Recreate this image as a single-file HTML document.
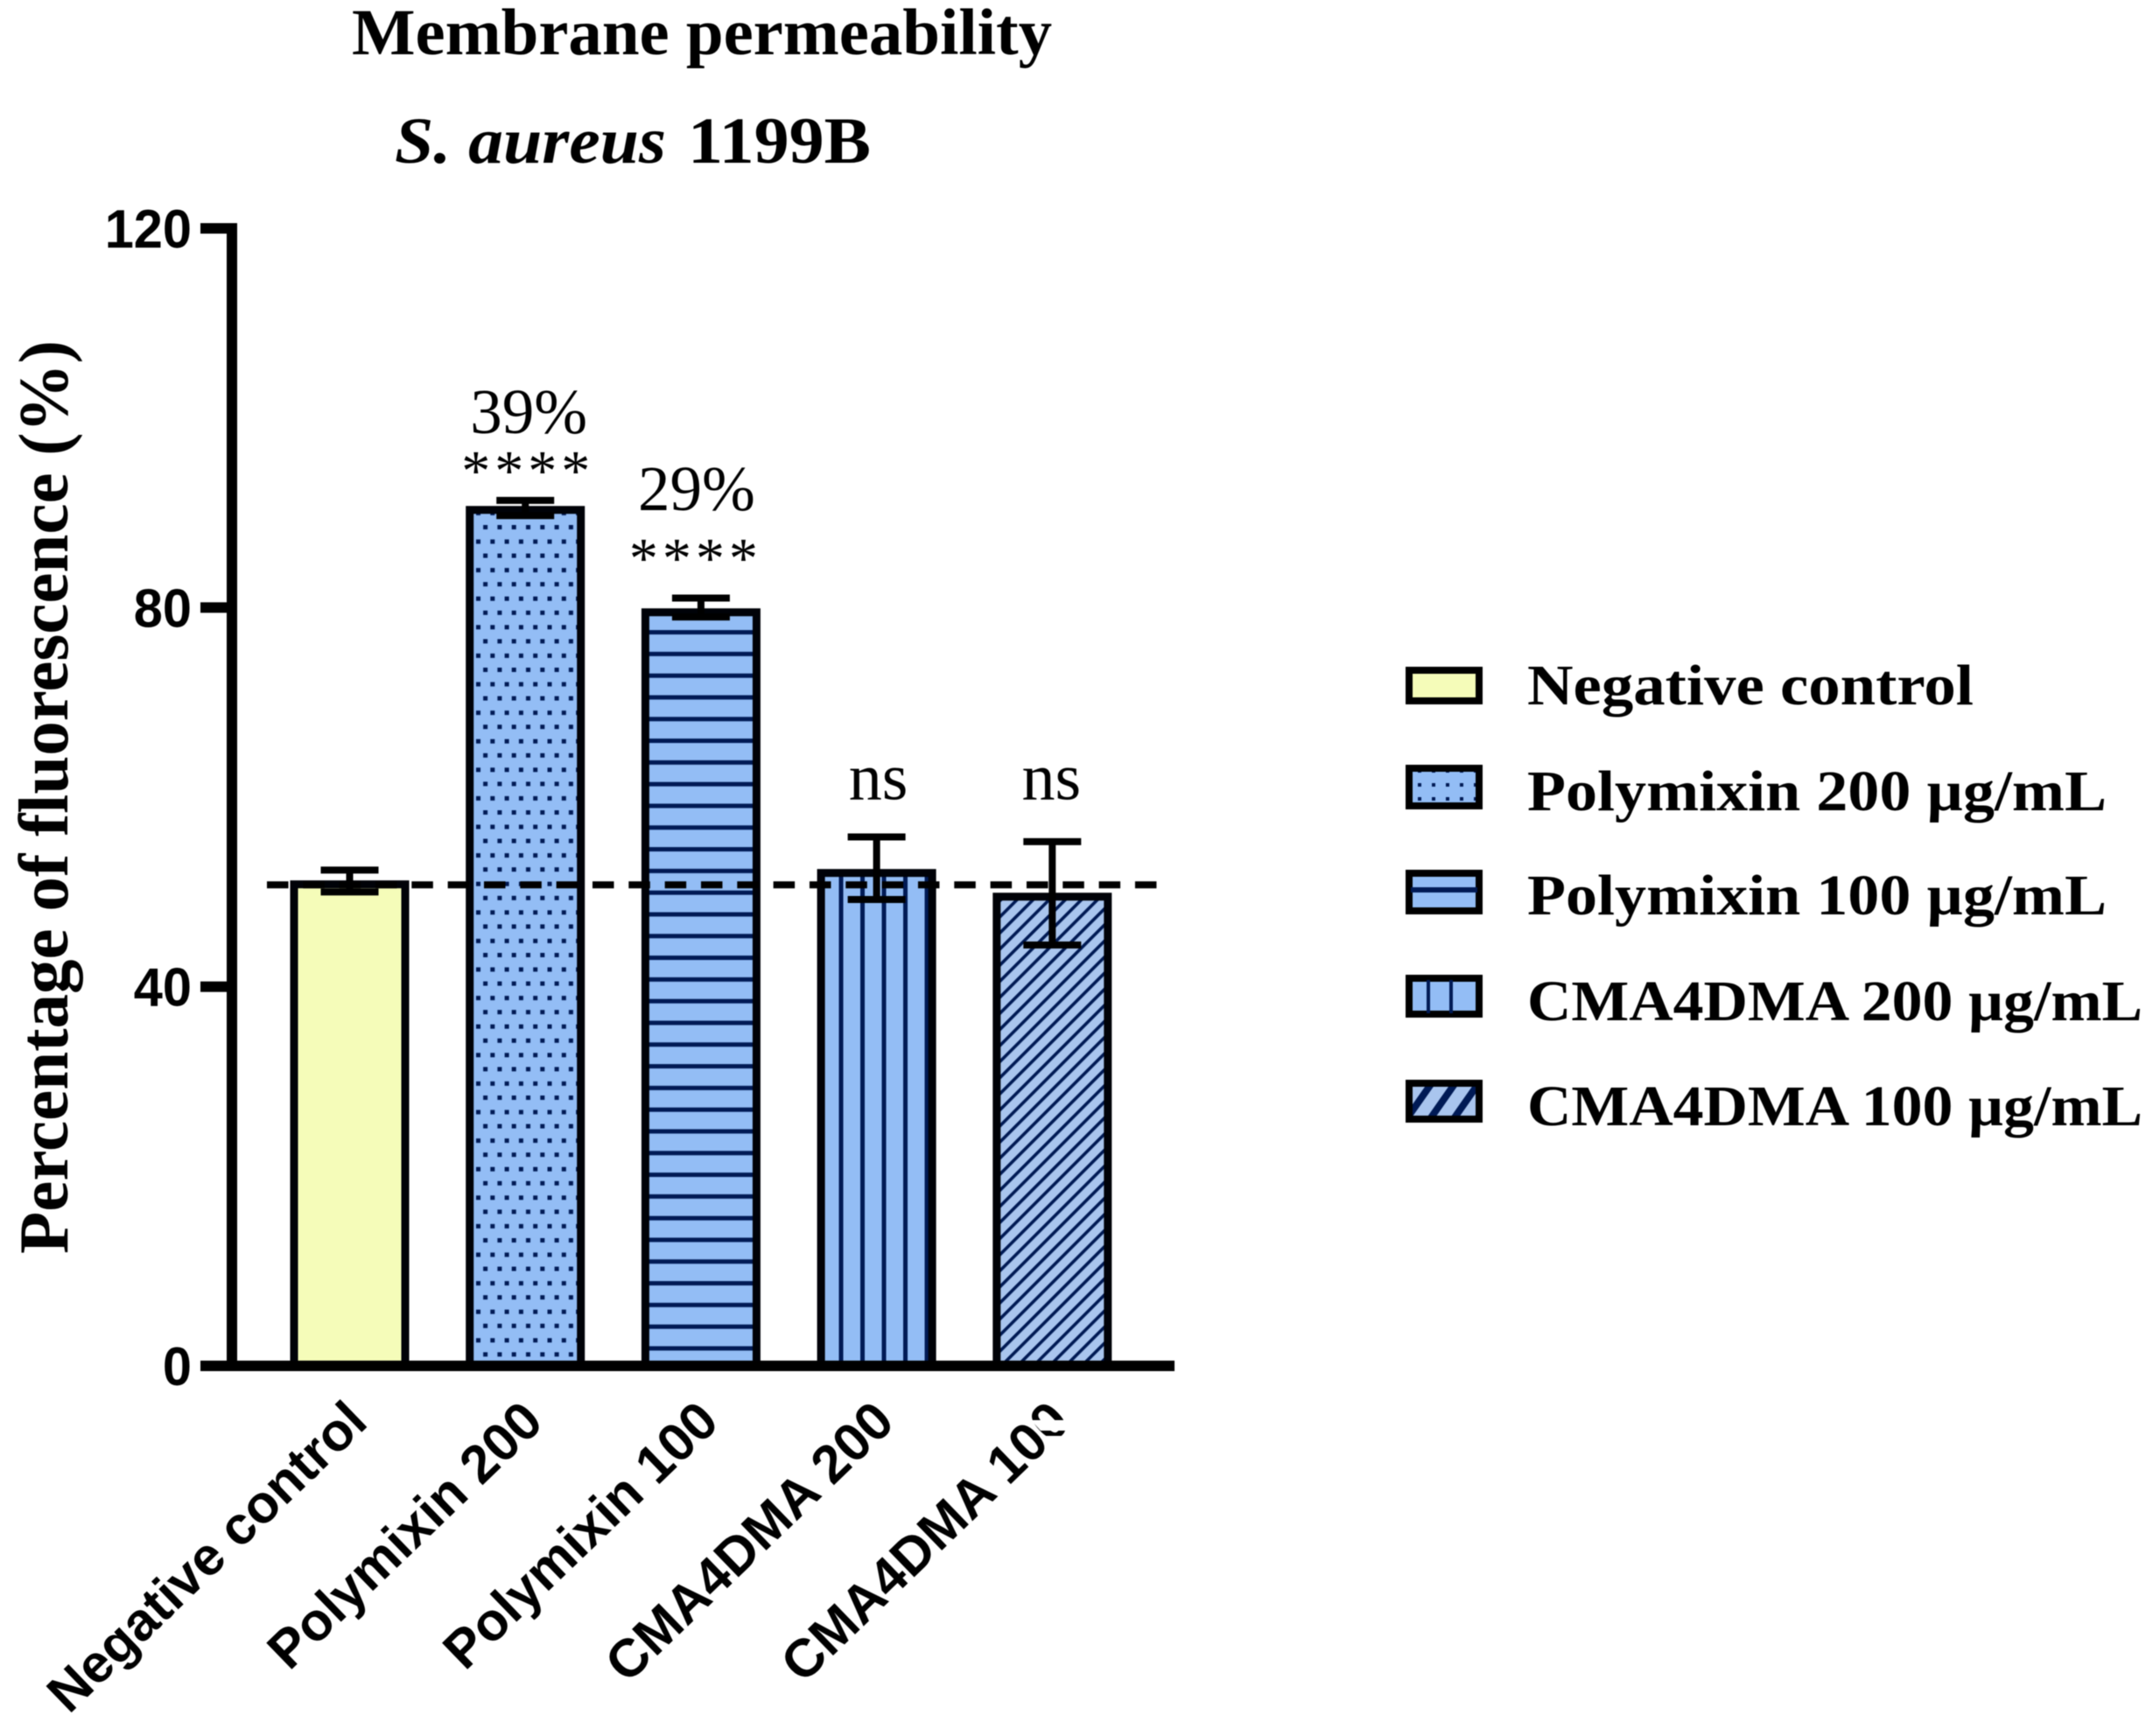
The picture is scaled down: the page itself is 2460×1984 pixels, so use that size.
<!DOCTYPE html>
<html lang="en">
<head>
<meta charset="utf-8">
<title>Membrane permeability S. aureus 1199B</title>
<style>
html,body{margin:0;padding:0;background:#fff;}
svg{display:block;filter:blur(0.6px);}
.serif{font-family:"Liberation Serif",serif;}
.sans{font-family:"Liberation Sans",sans-serif;}
</style>
</head>
<body>
<svg id="chart" xmlns="http://www.w3.org/2000/svg" width="2460" height="1984" viewBox="0 0 2460 1984">
  <defs>
    <pattern id="dots" patternUnits="userSpaceOnUse" width="16.3" height="32.6" x="544" y="599.5">
      <rect x="0" y="17" width="5" height="5" fill="#001a55"/>
      <rect x="8.1" y="0.5" width="5" height="5" fill="#001a55"/>
    </pattern>
    <pattern id="hlines" patternUnits="userSpaceOnUse" width="40" height="24.8" y="709.6">
      <rect x="0" y="10.5" width="40" height="5" fill="#001a55"/>
    </pattern>
    <pattern id="vlines" patternUnits="userSpaceOnUse" width="24.5" height="40" x="948.5">
      <rect x="10" y="0" width="5" height="40" fill="#001a55"/>
    </pattern>
    <pattern id="diag" patternUnits="userSpaceOnUse" width="13" height="13" patternTransform="rotate(45)">
      <rect x="0" y="0" width="3.6" height="13" fill="#001a55"/>
    </pattern>
    <pattern id="lgdots" patternUnits="userSpaceOnUse" width="16" height="16" x="1620" y="894">
      <rect x="0" y="1" width="4" height="4" fill="#001a55"/>
    </pattern>
    <pattern id="lgdiag" patternUnits="userSpaceOnUse" width="22" height="22" patternTransform="rotate(35)">
      <rect x="0" y="0" width="8" height="22" fill="#001a55"/>
    </pattern>
  </defs>

  <rect x="0" y="0" width="2460" height="1984" fill="#ffffff"/>

  <text class="serif" x="402" y="62" font-size="75" font-weight="700" textLength="800" lengthAdjust="spacingAndGlyphs">Membrane permeability</text>
  <text class="serif" x="451" y="186" font-size="75" font-weight="700" font-style="italic" textLength="310" lengthAdjust="spacingAndGlyphs">S. aureus</text>
  <text class="serif" x="786" y="186" font-size="75" font-weight="700" textLength="209" lengthAdjust="spacingAndGlyphs">1199B</text>

  <text class="serif" transform="translate(77,1433) rotate(-90)" font-size="80" font-weight="700" textLength="1044" lengthAdjust="spacingAndGlyphs">Percentage of fluorescence (%)</text>

  <g id="bars"></g>
  <g id="errors"></g>
  <g id="axes"></g>
  <g id="annotations"></g>

  <g id="legend">
    <g>
      <rect x="1610" y="766" width="80" height="35" fill="#f5fcb9" stroke="#000" stroke-width="8"/>
      <text class="serif" x="1745" y="805" font-size="66" font-weight="700" textLength="510" lengthAdjust="spacingAndGlyphs">Negative control</text>
    </g>
    <g>
      <rect x="1610" y="878" width="80" height="43" fill="#93bdf5"/>
      <rect x="1610" y="878" width="80" height="43" fill="url(#lgdots)" stroke="#000" stroke-width="8"/>
      <text class="serif" x="1745" y="926" font-size="66" font-weight="700" textLength="662" lengthAdjust="spacingAndGlyphs">Polymixin 200 µg/mL</text>
    </g>
    <g>
      <rect x="1610" y="998" width="80" height="43" fill="#93bdf5" stroke="#000" stroke-width="8"/>
      <rect x="1612" y="1014" width="76" height="6" fill="#001a55"/>
      <text class="serif" x="1745" y="1045" font-size="66" font-weight="700" textLength="662" lengthAdjust="spacingAndGlyphs">Polymixin 100 µg/mL</text>
    </g>
    <g>
      <rect x="1610" y="1118" width="80" height="41" fill="#93bdf5" stroke="#000" stroke-width="8"/>
      <rect x="1630" y="1120" width="4" height="38" fill="#001a55"/>
      <rect x="1656" y="1120" width="4" height="38" fill="#001a55"/>
      <text class="serif" x="1745" y="1166" font-size="66" font-weight="700" textLength="703" lengthAdjust="spacingAndGlyphs">CMA4DMA 200 µg/mL</text>
    </g>
    <g>
      <rect x="1610" y="1238" width="80" height="41" fill="#a9c5ee"/>
      <rect x="1610" y="1238" width="80" height="41" fill="url(#lgdiag)" stroke="#000" stroke-width="8"/>
      <text class="serif" x="1745" y="1286" font-size="66" font-weight="700" textLength="703" lengthAdjust="spacingAndGlyphs">CMA4DMA 100 µg/mL</text>
    </g>
  </g>
</svg>

<script>
const categories = ["Negative control", "Polymixin 200", "Polymixin 100", "CMA4DMA 200", "CMA4DMA 100"];
const means = [50.8, 90.3, 79.5, 52, 49.5];
const errorHigh = [52.3, 91.3, 81, 55.8, 55.3];
const errorLow = [50, 89.7, 79, 49.2, 44.4];
const percentLabels = ["", "39%", "29%", "", ""];
const significance = ["", "****", "****", "ns", "ns"];
const fills = ["#f5fcb9", "#93bdf5", "#93bdf5", "#93bdf5", "#a9c5ee"];
const hatches = ["", "dots", "hlines", "vlines", "diag"];
const yTicks = [0, 40, 80, 120];
const referenceLevel = 50.75;

const NS = "http://www.w3.org/2000/svg";
function yScale(v) { return 1561 - v * (1561 - 261) / 120; }
function xScale(i) { return 399.5 + i * 200.7; }
function make(parent, tag, attrs) {
  const el = document.createElementNS(NS, tag);
  for (const k in attrs) el.setAttribute(k, attrs[k]);
  parent.appendChild(el);
  return el;
}
const barsG = document.getElementById("bars");
const errG = document.getElementById("errors");
const axG = document.getElementById("axes");
const annG = document.getElementById("annotations");
const BAR = 127, CAP = 66;

categories.forEach(function (cat, i) {
  const cx = xScale(i), top = yScale(means[i]), h = yScale(0) - top;
  const g = make(barsG, "g", {});
  
  
  make(g, "rect", { x: cx - BAR / 2, y: top, width: BAR, height: h, fill: fills[i] });
  if (hatches[i]) make(g, "rect", { x: cx - BAR / 2, y: top, width: BAR, height: h, fill: "url(#" + hatches[i] + ")" });
  make(g, "rect", { x: cx - BAR / 2, y: top, width: BAR, height: h, fill: "none", stroke: "#000208", "stroke-width": 9 });

  const e = make(errG, "g", { stroke: "#000", "stroke-width": 8, fill: "none" });
  
  
  const yh = yScale(errorHigh[i]), yl = yScale(errorLow[i]);
  make(e, "line", { x1: cx, x2: cx, y1: yh, y2: yl });
  make(e, "line", { x1: cx - CAP / 2, x2: cx + CAP / 2, y1: yh, y2: yh });
  make(e, "line", { x1: cx - CAP / 2, x2: cx + CAP / 2, y1: yl, y2: yl });

  const lab = make(axG, "text", {
    class: "sans", "font-size": 61, "font-weight": 700, "text-anchor": "end",
    transform: "translate(" + (cx + 23) + ",1628) rotate(-44)"
  });
  
  
  lab.textContent = cat;

  if (percentLabels[i]) {
    const firstGroup = i === 1;
    const p = make(annG, "text", {
      class: "serif", "font-size": 73, "text-anchor": "middle",
      x: cx + (firstGroup ? 4 : -5),
      y: top - (firstGroup ? 88 : 117)
    });
    
    
    p.textContent = percentLabels[i];
  }
  if (significance[i] === "ns") {
    const s = make(annG, "text", {
      class: "serif", "font-size": 76, "text-anchor": "middle",
      x: cx + (i === 3 ? 2 : -1),
      y: yScale(Math.max(errorHigh[3], errorHigh[4])) - 43
    });
    
    
    s.textContent = significance[i];
  } else if (significance[i]) {
    const firstGroup = i === 1;
    const s = make(annG, "text", {
      class: "serif", "font-size": 66, "text-anchor": "middle",
      x: cx + (firstGroup ? 3 : -6),
      y: top - (firstGroup ? 23 : 40),
      "letter-spacing": 5
    });
    
    
    s.textContent = significance[i];
  }
});

const yAxis = make(axG, "rect", { x: 259, y: 255, width: 12, height: 1312, fill: "#000" });


const xAxis = make(axG, "rect", { x: 229, y: 1555, width: 1113, height: 12, fill: "#000" });



yTicks.forEach(function (t) {
  const tick = make(axG, "rect", { x: 229, y: yScale(t) - 6, width: 36, height: 12, fill: "#000" });
  
  
  const lbl = make(axG, "text", {
    class: "sans", "font-size": 62, "font-weight": 700, "text-anchor": "end",
    transform: "translate(219," + (yScale(t) + 22) + ") scale(0.96,1)"
  });
  
  
  lbl.textContent = String(t);
});

const refLine = make(annG, "line", {
  x1: 305, x2: 1322, y1: yScale(referenceLevel), y2: yScale(referenceLevel),
  stroke: "#000", "stroke-width": 8, "stroke-dasharray": "24.5 16.83"
});



const glitchA = make(annG, "polygon", { points: "1178,1623 1230,1623 1230,1635 1189,1635", fill: "#fff" });


const glitchB = make(annG, "polygon", { points: "1195,1641 1230,1641 1230,1662 1213,1662", fill: "#fff" });


</script>
</body>
</html>
